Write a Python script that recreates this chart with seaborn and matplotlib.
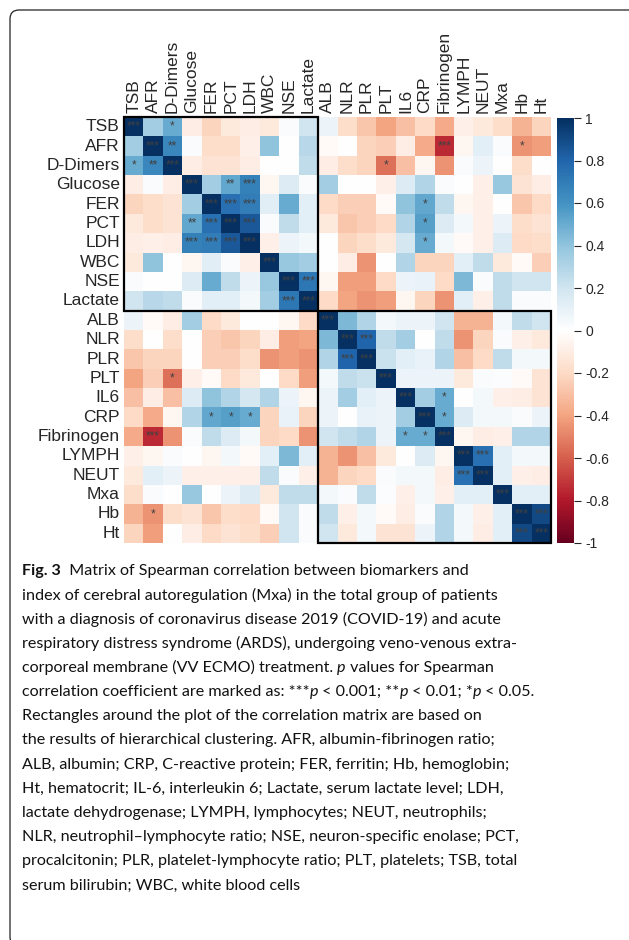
import numpy as np
import matplotlib
matplotlib.use("Agg")
import matplotlib.pyplot as plt
import seaborn as sns
from matplotlib.colors import LinearSegmentedColormap
from matplotlib.patches import Rectangle, FancyBboxPatch
from matplotlib.transforms import IdentityTransform

# -----------------------------------
# Data
# -----------------------------------

markers = [
    "TSB", "AFR", "D-Dimers", "Glucose", "FER", "PCT", "LDH", "WBC",
    "NSE", "Lactate", "ALB", "NLR", "PLR", "PLT", "IL6", "CRP",
    "Fibrinogen", "LYMPH", "NEUT", "Mxa", "Hb", "Ht"
]

# lower triangle of the Spearman matrix, row i holds columns 0..i-1
corr_lower = [
    [],
    [0.35],
    [0.5, 0.65],
    [-0.1, 0.03, -0.1],
    [-0.22, -0.18, -0.15, 0.35],
    [-0.12, -0.18, -0.15, 0.52, 0.75],
    [-0.1, -0.08, -0.1, 0.68, 0.7, 0.85],
    [-0.12, 0.4, 0.0, -0.05, 0.13, 0.03, -0.08],
    [0.03, 0.0, 0.0, 0.15, 0.5, 0.25, 0.08, 0.38],
    [0.2, 0.28, 0.25, 0.03, 0.12, 0.12, 0.05, 0.35, 0.72],
    [0.08, -0.03, -0.1, 0.35, -0.2, -0.12, 0.0, 0.0, -0.05, -0.2],
    [-0.18, 0.0, -0.18, 0.0, -0.25, -0.28, -0.22, -0.1, -0.42, -0.4, 0.45],
    [-0.28, -0.22, -0.22, 0.0, -0.25, -0.25, -0.18, -0.45, -0.42, -0.45, 0.3, 0.8],
    [-0.4, -0.25, -0.55, -0.08, -0.03, -0.2, -0.12, 0.0, -0.2, -0.42, 0.05, 0.25,
     0.22],
    [-0.3, -0.1, -0.3, 0.15, 0.4, 0.3, 0.18, 0.3, 0.08, -0.05, 0.08, 0.35, 0.12,
     0.08],
    [-0.2, -0.38, -0.05, 0.3, 0.52, 0.55, 0.5, -0.22, 0.1, -0.22, 0.08, 0.0, 0.1,
     0.08, 0.35],
    [-0.38, -0.75, -0.45, 0.03, 0.25, 0.15, 0.05, -0.22, -0.2, -0.45, 0.2, 0.25,
     0.3, 0.08, 0.5, 0.5],
    [-0.08, -0.05, 0.03, 0.0, -0.05, 0.05, -0.03, 0.12, 0.45, 0.12, -0.35, -0.45,
     -0.3, -0.12, 0.0, 0.15, -0.05],
    [-0.12, 0.12, 0.08, -0.08, -0.08, -0.08, -0.08, 0.25, 0.03, -0.08, -0.35,
     -0.22, -0.2, 0.03, 0.05, 0.05, -0.1, 0.75],
    [-0.18, 0.03, 0.0, 0.38, 0.0, 0.08, 0.15, -0.12, 0.25, 0.25, 0.05, 0.03,
     0.25, 0.02, -0.08, 0.05, -0.08, 0.12, 0.12],
    [-0.35, -0.45, -0.18, -0.15, -0.28, -0.18, -0.2, -0.03, 0.2, 0.03, 0.25,
     -0.08, 0.05, -0.03, -0.1, 0.03, 0.3, 0.05, -0.08, 0.12],
    [-0.22, -0.42, 0.0, -0.1, -0.2, -0.15, -0.18, -0.25, 0.2, 0.03, 0.2, -0.12,
     0.05, -0.15, -0.15, 0.08, 0.3, 0.05, -0.1, 0.12, 0.9],
]

# significance marks (row, col, label), lower triangle only
stars = [
    (2, 0, "*"), (2, 1, "**"),
    (5, 3, "**"), (6, 3, "***"), (5, 4, "***"), (6, 4, "***"), (6, 5, "***"),
    (9, 8, "***"), (13, 2, "*"),
    (15, 4, "*"), (15, 5, "*"), (15, 6, "*"),
    (16, 1, "***"), (20, 1, "*"), (12, 11, "***"),
    (16, 14, "*"), (16, 15, "*"), (18, 17, "***"), (21, 20, "***"),
]

# hierarchical clusters (number of markers in each box)
cluster_sizes = [10, 12]

cbar_ticks = [1, 0.8, 0.6, 0.4, 0.2, 0, -0.2, -0.4, -0.6, -0.8, -1]

caption_lines = [
    [("Fig. 3", "bold"), ("  Matrix of Spearman correlation between biomarkers and", "normal")],
    [("index of cerebral autoregulation (Mxa) in the total group of patients", "normal")],
    [("with a diagnosis of coronavirus disease 2019 (COVID-19) and acute", "normal")],
    [("respiratory distress syndrome (ARDS), undergoing veno-venous extra-", "normal")],
    [("corporeal membrane (VV ECMO) treatment. ", "normal"), ("p", "italic"),
     (" values for Spearman", "normal")],
    [("correlation coefficient are marked as: ***", "normal"), ("p", "italic"),
     (" < 0.001; **", "normal"), ("p", "italic"), (" < 0.01; *", "normal"),
     ("p", "italic"), (" < 0.05.", "normal")],
    [("Rectangles around the plot of the correlation matrix are based on", "normal")],
    [("the results of hierarchical clustering. AFR, albumin-fibrinogen ratio;", "normal")],
    [("ALB, albumin; CRP, C-reactive protein; FER, ferritin; Hb, hemoglobin;", "normal")],
    [("Ht, hematocrit; IL-6, interleukin 6; Lactate, serum lactate level; LDH,", "normal")],
    [("lactate dehydrogenase; LYMPH, lymphocytes; NEUT, neutrophils;", "normal")],
    [("NLR, neutrophil\u2013lymphocyte ratio; NSE, neuron-specific enolase; PCT,", "normal")],
    [("procalcitonin; PLR, platelet-lymphocyte ratio; PLT, platelets; TSB, total", "normal")],
    [("serum bilirubin; WBC, white blood cells", "normal")],
]

# -----------------------------------
# Build matrix
# -----------------------------------

n = len(markers)
corr = np.eye(n)
for i, row in enumerate(corr_lower):
    for j, v in enumerate(row):
        corr[i, j] = v
        corr[j, i] = v

annot = np.full((n, n), "", dtype=object)
for i in range(n):
    annot[i, i] = "***"
for i, j, s in stars:
    annot[i, j] = s
    annot[j, i] = s

# -----------------------------------
# Plot
# -----------------------------------

sns.set_style("white")
plt.rcParams["font.family"] = ["Liberation Sans", "DejaVu Sans"]
plt.rcParams["axes.unicode_minus"] = False

cmap = LinearSegmentedColormap.from_list(
    "corrplot_rdbu",
    ["#67001F", "#B2182B", "#D6604D", "#F4A582", "#FDDBC7", "#FFFFFF",
     "#D1E5F0", "#92C5DE", "#4393C3", "#2166AC", "#053061"]
)

W, H = 629, 940
fig = plt.figure(figsize=(W / 100, H / 100), dpi=100)

ax = fig.add_axes([124 / W, 1 - 543 / H, 427 / W, 426 / H])
cax = fig.add_axes([557 / W, 1 - 543 / H, 17 / W, 425 / H])

sns.heatmap(
    corr,
    ax=ax,
    cbar_ax=cax,
    cmap=cmap,
    vmin=-1,
    vmax=1,
    annot=annot,
    fmt="",
    annot_kws={"fontsize": 8.5, "color": "#404040"},
    xticklabels=markers,
    yticklabels=markers,
    square=False,
)

ax.xaxis.tick_top()
ax.tick_params(axis="both", length=0, labelsize=12.5, pad=3)
plt.setp(ax.get_xticklabels(), rotation=90, va="bottom", ha="center")
plt.setp(ax.get_yticklabels(), rotation=0)

# cluster boxes
start = 0
for size in cluster_sizes:
    ax.add_patch(Rectangle((start, start), size, size, fill=False,
                           edgecolor="black", lw=1.6, clip_on=False))
    start += size

cax.set_yticks(cbar_ticks)
cax.set_yticklabels([f"{t:g}" for t in cbar_ticks])
cax.tick_params(axis="y", length=5, width=0.8, labelsize=10, pad=3)
for sp in cax.spines.values():
    sp.set_visible(False)

# -----------------------------------
# Caption
# -----------------------------------

renderer = fig.canvas.get_renderer()
cap_family = ["Lato", "DejaVu Sans"]
cap_size = 11.6
y0 = 571
for k, segs in enumerate(caption_lines):
    x = 22
    y = y0 + k * 24.2
    for s, style in segs:
        t = fig.text(
            x / W, 1 - y / H, s,
            family=cap_family,
            fontsize=cap_size,
            fontweight="bold" if style == "bold" else "normal",
            fontstyle="italic" if style == "italic" else "normal",
            va="center", ha="left", color="#111111",
        )
        bb = t.get_window_extent(renderer)
        x += bb.width

# frame of the figure panel
fig.patches.append(FancyBboxPatch(
    (10, -6), 700, 936,
    boxstyle="round,pad=0,rounding_size=9",
    transform=IdentityTransform(),
    fill=False, edgecolor="#222222", lw=0.9,
))

fig.savefig("out.png", dpi=100)
plt.close(fig)
